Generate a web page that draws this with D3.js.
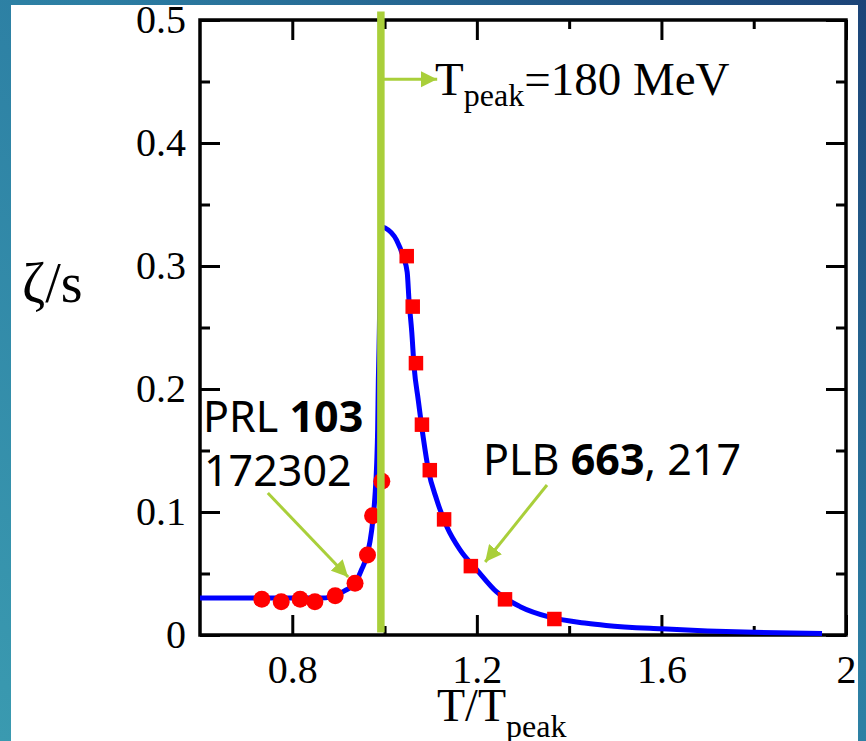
<!DOCTYPE html>
<html>
<head>
<meta charset="utf-8">
<script src="https://cdn.jsdelivr.net/npm/d3@7"></script>
<style>
  html, body { margin: 0; padding: 0; background: #2b7fa2; }
  svg { display: block; }
</style>
</head>
<body>
<svg width="866" height="741"></svg>
<script>
// lattice points, PRL 103 172302
const prlT    = [0.734, 0.776, 0.817, 0.849, 0.893, 0.936, 0.963, 0.974, 0.994];
const prlZeta = [0.029, 0.027, 0.029, 0.027, 0.032, 0.042, 0.065, 0.097, 0.125];

// PLB 663, 217
const plbT    = [1.048, 1.061, 1.068, 1.081, 1.098, 1.129, 1.187, 1.261, 1.368];
const plbZeta = [0.308, 0.267, 0.221, 0.171, 0.134, 0.094, 0.056, 0.029, 0.013];

// fitted curve
const fitT    = [0.6, 0.7, 0.8, 0.86, 0.885, 0.914, 0.936, 0.95, 0.963, 0.972, 0.979, 0.983, 0.985, 0.9865, 0.988, 0.993,
                 1.001, 1.026, 1.040, 1.049, 1.053, 1.059, 1.064, 1.073, 1.084, 1.095, 1.113, 1.135, 1.164, 1.2, 1.243,
                 1.294, 1.358, 1.438, 1.48, 1.6, 1.7, 1.8, 1.948];
const fitZeta = [0.030, 0.030, 0.030, 0.030, 0.031, 0.036, 0.042, 0.053, 0.066, 0.085, 0.112, 0.140, 0.167, 0.207, 0.234, 0.332,
                 0.331, 0.321, 0.308, 0.295, 0.272, 0.246, 0.218, 0.191, 0.160, 0.134, 0.110, 0.088, 0.069, 0.053, 0.035,
                 0.023, 0.0145, 0.0095, 0.0078, 0.0050, 0.0033, 0.0022, 0.0013];

const xMajor = [0.8, 1.2, 1.6, 2.0];
const xMinor = [1.0, 1.4, 1.8];
const yMajor = [0, 0.1, 0.2, 0.3, 0.4, 0.5];
const yMinor = [0.05, 0.15, 0.25, 0.35, 0.45];

const tPeakLine = 0.992;   // T/Tpeak where the green marker sits

let svg = d3.select("svg"),
    width = +svg.attr("width"),
    height = +svg.attr("height");

// slide background
let defs = svg.append("defs");
let grad = defs.append("linearGradient")
    .attr("id", "bg")
    .attr("x1", "0").attr("y1", "1").attr("x2", "1").attr("y2", "0");
grad.append("stop").attr("offset", "0%").attr("stop-color", "#3a9ab0");
grad.append("stop").attr("offset", "55%").attr("stop-color", "#2c7ea3");
grad.append("stop").attr("offset", "100%").attr("stop-color", "#1c4478");

svg.append("rect").attr("width", width).attr("height", height).attr("fill", "url(#bg)");
svg.append("rect").attr("x", 11).attr("y", 5).attr("width", 847).attr("height", height - 5).attr("fill", "#fff");

let marker = defs.append("marker")
    .attr("id", "arrow")
    .attr("viewBox", "0 0 10 10")
    .attr("refX", 10).attr("refY", 5)
    .attr("markerWidth", 5.5).attr("markerHeight", 5.5)
    .attr("markerUnits", "strokeWidth")
    .attr("orient", "auto");
marker.append("path").attr("d", "M0,0L10,5L0,10Z").attr("fill", "#a9cf3a");

let x = d3.scaleLinear().domain([0.6, 2.0]).range([200, 846]);
let y = d3.scaleLinear().domain([0, 0.5]).range([635, 20]);

const fmt = d3.format("~g");
const serif = "'Liberation Serif', 'Times New Roman', serif";
const sans = "'Noto Sans', 'Open Sans', sans-serif";

function styleAxis(g) {
  g.select(".domain").remove();
  g.selectAll("line").attr("stroke", "#000").attr("stroke-width", 3);
  g.selectAll("text").attr("fill", "#000").style("font-family", serif).style("font-size", "40px");
}

// major ticks with labels
svg.append("g").attr("transform", "translate(0,635)")
    .call(d3.axisBottom(x).tickValues(xMajor).tickSize(-20).tickPadding(20).tickFormat(fmt))
    .call(styleAxis);
svg.append("g").attr("transform", "translate(200,0)")
    .call(d3.axisLeft(y).tickValues(yMajor).tickSize(-20).tickPadding(14).tickFormat(fmt))
    .call(styleAxis);
// mirrored ticks without labels
svg.append("g").attr("transform", "translate(0,20)")
    .call(d3.axisTop(x).tickValues(xMajor).tickSize(-20).tickFormat(""))
    .call(styleAxis);
svg.append("g").attr("transform", "translate(846,0)")
    .call(d3.axisRight(y).tickValues(yMajor).tickSize(-20).tickFormat(""))
    .call(styleAxis);
// minor ticks
svg.append("g").attr("transform", "translate(0,635)")
    .call(d3.axisBottom(x).tickValues(xMinor).tickSize(-9).tickFormat("")).call(styleAxis);
svg.append("g").attr("transform", "translate(0,20)")
    .call(d3.axisTop(x).tickValues(xMinor).tickSize(-9).tickFormat("")).call(styleAxis);
svg.append("g").attr("transform", "translate(200,0)")
    .call(d3.axisLeft(y).tickValues(yMinor).tickSize(-10).tickFormat("")).call(styleAxis);
svg.append("g").attr("transform", "translate(846,0)")
    .call(d3.axisRight(y).tickValues(yMinor).tickSize(-10).tickFormat("")).call(styleAxis);

// frame
svg.append("rect")
    .attr("x", x(0.6)).attr("y", y(0.5))
    .attr("width", x(2.0) - x(0.6)).attr("height", y(0) - y(0.5))
    .attr("fill", "none").attr("stroke", "#000").attr("stroke-width", 3.5);

// fit curve
let fit = fitT.map((t, i) => [t, fitZeta[i]]);
let line = d3.line().x(d => x(d[0])).y(d => y(d[1])).curve(d3.curveMonotoneX);
svg.append("path")
    .datum(fit)
    .attr("d", line)
    .attr("fill", "none").attr("stroke", "#0000ff").attr("stroke-width", 5)
    .attr("stroke-linejoin", "round");

// circles
svg.append("g").selectAll("circle")
    .data(prlT.map((t, i) => [t, prlZeta[i]]))
    .enter().append("circle")
    .attr("cx", d => x(d[0])).attr("cy", d => y(d[1])).attr("r", 8.5)
    .attr("fill", "#ff0000");

// squares
const sq = 14.5;
svg.append("g").selectAll("rect")
    .data(plbT.map((t, i) => [t, plbZeta[i]]))
    .enter().append("rect")
    .attr("x", d => x(d[0]) - sq / 2).attr("y", d => y(d[1]) - sq / 2)
    .attr("width", sq).attr("height", sq)
    .attr("fill", "#ff0000");

// green Tpeak marker
svg.append("line")
    .attr("x1", x(tPeakLine)).attr("x2", x(tPeakLine))
    .attr("y1", y(0.507)).attr("y2", y(0.002))
    .attr("stroke", "#a9cf3a").attr("stroke-width", 7.5);

// arrows
function arrow(a, b) {
  svg.append("line")
      .attr("x1", x(a[0])).attr("y1", y(a[1]))
      .attr("x2", x(b[0])).attr("y2", y(b[1]))
      .attr("stroke", "#a9cf3a").attr("stroke-width", 3)
      .attr("marker-end", "url(#arrow)");
}
arrow([tPeakLine, 0.4518], [1.114, 0.4518]);
arrow([0.747, 0.1154], [0.921, 0.0472]);
arrow([1.352, 0.122], [1.218, 0.0593]);

// Tpeak label
let tp = svg.append("text")
    .attr("x", 435).attr("y", 95)
    .style("font-family", serif).style("font-size", "47px").attr("fill", "#000");
tp.append("tspan").text("T");
tp.append("tspan").attr("dy", 11).style("font-size", "32px").text("peak");
tp.append("tspan").attr("dy", -11).text("=180 MeV");

// reference labels
let prl = svg.append("text").attr("x", 203).attr("y", 432)
    .style("font-family", sans).style("font-size", "43px").attr("fill", "#000");
prl.append("tspan").text("PRL ");
prl.append("tspan").style("font-weight", "bold").text("103");
svg.append("text").attr("x", 204).attr("y", 486)
    .style("font-family", sans).style("font-size", "43px").attr("fill", "#000")
    .text("172302");

let plb = svg.append("text").attr("x", 483).attr("y", 475)
    .style("font-family", sans).style("font-size", "43px").attr("fill", "#000");
plb.append("tspan").text("PLB ");
plb.append("tspan").style("font-weight", "bold").text("663");
plb.append("tspan").text(", 217");

// axis titles
svg.append("text").attr("x", 22).attr("y", 302)
    .style("font-family", serif).style("font-size", "56px").attr("fill", "#000")
    .text("ζ/s");

let xl = svg.append("text").attr("x", 437).attr("y", 721)
    .style("font-family", serif).style("font-size", "46px").attr("fill", "#000");
xl.append("tspan").text("T/T");
xl.append("tspan").attr("dy", 16).style("font-size", "32px").text("peak");
</script>
</body>
</html>
